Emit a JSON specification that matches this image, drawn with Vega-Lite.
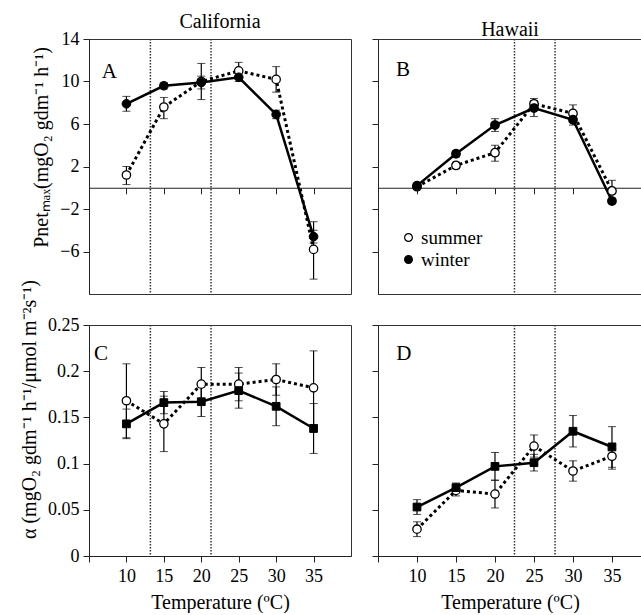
{
  "$schema": "https://vega.github.io/schema/vega-lite/v6.json",
  "padding": {"left": 19, "top": 11, "right": 0, "bottom": 0},
  "autosize": {"type": "pad"},
  "background": "white",
  "datasets": {
    "pts": [
      {"panel": "A", "season": "summer", "temp": 10, "val": 1.2, "lo": 0.3, "hi": 2.0},
      {"panel": "A", "season": "summer", "temp": 15, "val": 7.6, "lo": 6.5, "hi": 8.5},
      {"panel": "A", "season": "summer", "temp": 20, "val": 10.0, "lo": 8.3, "hi": 11.7},
      {"panel": "A", "season": "summer", "temp": 25, "val": 11.0, "lo": 10.3, "hi": 11.8},
      {"panel": "A", "season": "summer", "temp": 30, "val": 10.2, "lo": 9.0, "hi": 11.4},
      {"panel": "A", "season": "summer", "temp": 35, "val": -5.8, "lo": -8.6, "hi": -3.2},
      {"panel": "A", "season": "winter", "temp": 10, "val": 7.9, "lo": 7.2, "hi": 8.6},
      {"panel": "A", "season": "winter", "temp": 15, "val": 9.6, "lo": 9.3, "hi": 9.9},
      {"panel": "A", "season": "winter", "temp": 20, "val": 9.9, "lo": 9.3, "hi": 10.5},
      {"panel": "A", "season": "winter", "temp": 25, "val": 10.4, "lo": 10.0, "hi": 10.8},
      {"panel": "A", "season": "winter", "temp": 30, "val": 6.9, "lo": 6.5, "hi": 7.3},
      {"panel": "A", "season": "winter", "temp": 35, "val": -4.6, "lo": -5.2, "hi": -4.0},
      {"panel": "B", "season": "summer", "temp": 10, "val": 0.1, "lo": -0.1, "hi": 0.3},
      {"panel": "B", "season": "summer", "temp": 15, "val": 2.1, "lo": 1.8, "hi": 2.4},
      {"panel": "B", "season": "summer", "temp": 20, "val": 3.3, "lo": 2.5, "hi": 4.0},
      {"panel": "B", "season": "summer", "temp": 25, "val": 7.9, "lo": 7.3, "hi": 8.4},
      {"panel": "B", "season": "summer", "temp": 30, "val": 7.0, "lo": 6.2, "hi": 7.8},
      {"panel": "B", "season": "summer", "temp": 35, "val": -0.3, "lo": -1.0, "hi": 0.7},
      {"panel": "B", "season": "winter", "temp": 10, "val": 0.2, "lo": 0.0, "hi": 0.4},
      {"panel": "B", "season": "winter", "temp": 15, "val": 3.2, "lo": 2.9, "hi": 3.5},
      {"panel": "B", "season": "winter", "temp": 20, "val": 5.9, "lo": 5.3, "hi": 6.5},
      {"panel": "B", "season": "winter", "temp": 25, "val": 7.5, "lo": 6.7, "hi": 8.2},
      {"panel": "B", "season": "winter", "temp": 30, "val": 6.4, "lo": 5.9, "hi": 6.9},
      {"panel": "B", "season": "winter", "temp": 35, "val": -1.25, "lo": -1.5, "hi": -1.0},
      {"panel": "C", "season": "summer", "temp": 10, "val": 0.168, "lo": 0.128, "hi": 0.208},
      {"panel": "C", "season": "summer", "temp": 15, "val": 0.143, "lo": 0.113, "hi": 0.173},
      {"panel": "C", "season": "summer", "temp": 20, "val": 0.186, "lo": 0.168, "hi": 0.204},
      {"panel": "C", "season": "summer", "temp": 25, "val": 0.186, "lo": 0.168, "hi": 0.204},
      {"panel": "C", "season": "summer", "temp": 30, "val": 0.191, "lo": 0.174, "hi": 0.208},
      {"panel": "C", "season": "summer", "temp": 35, "val": 0.182, "lo": 0.142, "hi": 0.222},
      {"panel": "C", "season": "winter", "temp": 10, "val": 0.143, "lo": 0.127, "hi": 0.159},
      {"panel": "C", "season": "winter", "temp": 15, "val": 0.166, "lo": 0.154, "hi": 0.178},
      {"panel": "C", "season": "winter", "temp": 20, "val": 0.167, "lo": 0.151, "hi": 0.183},
      {"panel": "C", "season": "winter", "temp": 25, "val": 0.179, "lo": 0.160, "hi": 0.198},
      {"panel": "C", "season": "winter", "temp": 30, "val": 0.162, "lo": 0.141, "hi": 0.183},
      {"panel": "C", "season": "winter", "temp": 35, "val": 0.138, "lo": 0.111, "hi": 0.165},
      {"panel": "D", "season": "summer", "temp": 10, "val": 0.029, "lo": 0.021, "hi": 0.037},
      {"panel": "D", "season": "summer", "temp": 15, "val": 0.071, "lo": 0.065, "hi": 0.077},
      {"panel": "D", "season": "summer", "temp": 20, "val": 0.067, "lo": 0.052, "hi": 0.082},
      {"panel": "D", "season": "summer", "temp": 25, "val": 0.119, "lo": 0.107, "hi": 0.131},
      {"panel": "D", "season": "summer", "temp": 30, "val": 0.092, "lo": 0.081, "hi": 0.103},
      {"panel": "D", "season": "summer", "temp": 35, "val": 0.108, "lo": 0.094, "hi": 0.122},
      {"panel": "D", "season": "winter", "temp": 10, "val": 0.053, "lo": 0.045, "hi": 0.061},
      {"panel": "D", "season": "winter", "temp": 15, "val": 0.074, "lo": 0.069, "hi": 0.079},
      {"panel": "D", "season": "winter", "temp": 20, "val": 0.097, "lo": 0.082, "hi": 0.112},
      {"panel": "D", "season": "winter", "temp": 25, "val": 0.101, "lo": 0.092, "hi": 0.110},
      {"panel": "D", "season": "winter", "temp": 30, "val": 0.135, "lo": 0.118, "hi": 0.152},
      {"panel": "D", "season": "winter", "temp": 35, "val": 0.118, "lo": 0.096, "hi": 0.140}
    ],
    "vlines": [
      {"panel": "A", "temp": 13.2}, {"panel": "A", "temp": 21.3},
      {"panel": "B", "temp": 22.5}, {"panel": "B", "temp": 27.7},
      {"panel": "C", "temp": 13.2}, {"panel": "C", "temp": 21.3},
      {"panel": "D", "temp": 22.5}, {"panel": "D", "temp": 27.7}
    ],
    "letters": [
      {"panel": "A", "temp": 7.7, "val": 10.9, "txt": "A"},
      {"panel": "B", "temp": 8.2, "val": 11.1, "txt": "B"},
      {"panel": "C", "temp": 6.6, "val": 0.219, "txt": "C"},
      {"panel": "D", "temp": 8.3, "val": 0.219, "txt": "D"}
    ]
  },
  "config": {
    "font": "Liberation Serif, Times New Roman, serif",
    "axis": {
      "labelFont": "Liberation Serif, Times New Roman, serif", "titleFont": "Liberation Serif, Times New Roman, serif",
      "labelFontSize": 18, "titleFontSize": 20, "titleFontWeight": "normal",
      "labelColor": "black", "titleColor": "black",
      "domainColor": "#222", "tickColor": "#222", "grid": false,
      "tickSize": 6, "labelPadding": 4, "titlePadding": 8
    },
    "title": {"font": "Liberation Serif, Times New Roman, serif", "fontSize": 20, "fontWeight": "normal", "color": "black", "offset": -2, "frame": "group", "anchor": "middle"},
    "view": {"stroke": "#333", "strokeWidth": 1},
    "legend": {"labelFont": "Liberation Serif, Times New Roman, serif", "labelFontSize": 19, "labelColor": "black"}
  },
  "columns": 2,
  "bounds": "flush",
  "align": "each",
  "spacing": {"row": 31, "column": 27},
  "resolve": {"scale": {"fill": "independent"}, "legend": {"fill": "independent"}},
  "concat": [
    {
      "width": 262, "height": 255,
      "title": "California",
      "encoding": {"x": {"field": "temp", "type": "quantitative", "scale": {"domain": [5, 40], "nice": false, "zero": false}, "axis": {"values": [10, 15, 20, 25, 30, 35], "labels": false, "title": null, "offset": -106.25}}},
      "layer": [
        {"data": {"name": "vlines"}, "transform": [{"filter": "datum.panel == 'A'"}], "mark": {"type": "rule", "strokeDash": [1.5, 1.5], "strokeWidth": 1.5, "color": "#333"}, "encoding": {}},
        {"data": {"name": "pts"}, "transform": [{"filter": "datum.panel == 'A' && datum.season == 'summer'"}], "mark": {"type": "line", "color": "black", "strokeWidth": 3, "strokeDash": [3, 3]},
         "encoding": {"y": {"field": "val", "type": "quantitative", "scale": {"domain": [-10, 14], "nice": false, "zero": false}, "title": "Pnetₘₐₓ(mgO₂ gdm⁻¹ h⁻¹)", "axis": {"values": [-6, -2, 2, 6, 10, 14], "titleY": 108}}}},
        {"data": {"name": "pts"}, "transform": [{"filter": "datum.panel == 'A' && datum.season == 'winter'"}], "mark": {"type": "line", "color": "black", "strokeWidth": 2.5},
         "encoding": {"y": {"field": "val", "type": "quantitative", "title": "Pnetₘₐₓ(mgO₂ gdm⁻¹ h⁻¹)"}}},
        {"data": {"name": "pts"}, "transform": [{"filter": "datum.panel == 'A'"}], "mark": {"type": "errorbar", "color": "black", "ticks": {"size": 8, "color": "black"}, "rule": {"strokeWidth": 1.2}},
         "encoding": {"y": {"field": "lo", "type": "quantitative", "title": "Pnetₘₐₓ(mgO₂ gdm⁻¹ h⁻¹)"}, "y2": {"field": "hi"}}},
        {"data": {"name": "pts"}, "transform": [{"filter": "datum.panel == 'A' && datum.season == 'summer'"}], "mark": {"type": "point", "shape": "circle", "filled": true, "fill": "white", "stroke": "black", "strokeWidth": 1.3, "size": 70, "opacity": 1},
         "encoding": {"y": {"field": "val", "type": "quantitative", "title": "Pnetₘₐₓ(mgO₂ gdm⁻¹ h⁻¹)"}}},
        {"data": {"name": "pts"}, "transform": [{"filter": "datum.panel == 'A' && datum.season == 'winter'"}], "mark": {"type": "point", "shape": "circle", "filled": true, "fill": "black", "stroke": "black", "strokeWidth": 1, "size": 75, "opacity": 1},
         "encoding": {"y": {"field": "val", "type": "quantitative", "title": "Pnetₘₐₓ(mgO₂ gdm⁻¹ h⁻¹)"}}},
        {"data": {"name": "letters"}, "transform": [{"filter": "datum.panel == 'A'"}], "mark": {"type": "text", "font": "Liberation Serif, Times New Roman, serif", "fontSize": 21, "color": "black", "align": "center", "baseline": "middle"},
         "encoding": {"y": {"field": "val", "type": "quantitative", "title": "Pnetₘₐₓ(mgO₂ gdm⁻¹ h⁻¹)"}, "text": {"field": "txt"}}}
      ]
    },
    {
      "width": 264, "height": 255,
      "title": "Hawaii",
      "encoding": {"x": {"field": "temp", "type": "quantitative", "scale": {"domain": [5, 38.85], "nice": false, "zero": false}, "axis": {"values": [10, 15, 20, 25, 30, 35], "labels": false, "title": null, "offset": -106.25}}},
      "layer": [
        {"data": {"name": "vlines"}, "transform": [{"filter": "datum.panel == 'B'"}], "mark": {"type": "rule", "strokeDash": [1.5, 1.5], "strokeWidth": 1.5, "color": "#333"}, "encoding": {}},
        {"data": {"name": "pts"}, "transform": [{"filter": "datum.panel == 'B' && datum.season == 'summer'"}], "mark": {"type": "line", "color": "black", "strokeWidth": 3, "strokeDash": [3, 3]},
         "encoding": {"y": {"field": "val", "type": "quantitative", "scale": {"domain": [-10, 14], "nice": false, "zero": false}, "title": null, "axis": {"values": [-6, -2, 2, 6, 10, 14], "labels": false}}}},
        {"data": {"name": "pts"}, "transform": [{"filter": "datum.panel == 'B' && datum.season == 'winter'"}], "mark": {"type": "line", "color": "black", "strokeWidth": 2.5},
         "encoding": {"y": {"field": "val", "type": "quantitative", "title": null}}},
        {"data": {"name": "pts"}, "transform": [{"filter": "datum.panel == 'B'"}], "mark": {"type": "errorbar", "color": "black", "ticks": {"size": 8, "color": "black"}, "rule": {"strokeWidth": 1.2}},
         "encoding": {"y": {"field": "lo", "type": "quantitative", "title": null}, "y2": {"field": "hi"}}},
        {"data": {"name": "pts"}, "transform": [{"filter": "datum.panel == 'B'"}], "mark": {"type": "point", "shape": "circle", "filled": true, "stroke": "black", "strokeWidth": 1.3, "size": 72, "opacity": 1},
         "encoding": {"y": {"field": "val", "type": "quantitative", "title": null},
           "fill": {"field": "season", "type": "nominal", "scale": {"domain": ["summer", "winter"], "range": ["white", "black"]},
             "legend": {"orient": "none", "legendX": 21, "legendY": 189, "title": null, "symbolType": "circle", "symbolSize": 60, "symbolStrokeColor": "black", "symbolStrokeWidth": 1.2, "rowPadding": 2, "labelOffset": 3}}}},
        {"data": {"name": "letters"}, "transform": [{"filter": "datum.panel == 'B'"}], "mark": {"type": "text", "font": "Liberation Serif, Times New Roman, serif", "fontSize": 21, "color": "black", "align": "center", "baseline": "middle"},
         "encoding": {"y": {"field": "val", "type": "quantitative", "title": null}, "text": {"field": "txt"}}}
      ]
    },
    {
      "width": 262, "height": 231,
      "encoding": {"x": {"field": "temp", "type": "quantitative", "scale": {"domain": [5, 40], "nice": false, "zero": false}, "axis": {"values": [5, 10, 15, 20, 25, 30, 35], "labelExpr": "datum.value == 5 ? '' : datum.label", "title": "Temperature (ºC)", "labelPadding": 5, "titlePadding": 7}}},
      "layer": [
        {"data": {"name": "vlines"}, "transform": [{"filter": "datum.panel == 'C'"}], "mark": {"type": "rule", "strokeDash": [1.5, 1.5], "strokeWidth": 1.5, "color": "#333"}, "encoding": {}},
        {"data": {"name": "pts"}, "transform": [{"filter": "datum.panel == 'C' && datum.season == 'summer'"}], "mark": {"type": "line", "color": "black", "strokeWidth": 3, "strokeDash": [3, 3]},
         "encoding": {"y": {"field": "val", "type": "quantitative", "scale": {"domain": [0, 0.25], "nice": false, "zero": false}, "title": "α (mgO₂ gdm⁻¹ h⁻¹/μmol m⁻²s⁻¹)", "axis": {"values": [0, 0.05, 0.1, 0.15, 0.2, 0.25], "format": "~g", "titleY": 84}}}},
        {"data": {"name": "pts"}, "transform": [{"filter": "datum.panel == 'C' && datum.season == 'winter'"}], "mark": {"type": "line", "color": "black", "strokeWidth": 2.5},
         "encoding": {"y": {"field": "val", "type": "quantitative", "title": "α (mgO₂ gdm⁻¹ h⁻¹/μmol m⁻²s⁻¹)"}}},
        {"data": {"name": "pts"}, "transform": [{"filter": "datum.panel == 'C'"}], "mark": {"type": "errorbar", "color": "black", "ticks": {"size": 8, "color": "black"}, "rule": {"strokeWidth": 1.2}},
         "encoding": {"y": {"field": "lo", "type": "quantitative", "title": "α (mgO₂ gdm⁻¹ h⁻¹/μmol m⁻²s⁻¹)"}, "y2": {"field": "hi"}}},
        {"data": {"name": "pts"}, "transform": [{"filter": "datum.panel == 'C' && datum.season == 'summer'"}], "mark": {"type": "point", "shape": "circle", "filled": true, "fill": "white", "stroke": "black", "strokeWidth": 1.3, "size": 70, "opacity": 1},
         "encoding": {"y": {"field": "val", "type": "quantitative", "title": "α (mgO₂ gdm⁻¹ h⁻¹/μmol m⁻²s⁻¹)"}}},
        {"data": {"name": "pts"}, "transform": [{"filter": "datum.panel == 'C' && datum.season == 'winter'"}], "mark": {"type": "point", "shape": "square", "filled": true, "fill": "black", "stroke": "black", "strokeWidth": 1, "size": 60, "opacity": 1},
         "encoding": {"y": {"field": "val", "type": "quantitative", "title": "α (mgO₂ gdm⁻¹ h⁻¹/μmol m⁻²s⁻¹)"}}},
        {"data": {"name": "letters"}, "transform": [{"filter": "datum.panel == 'C'"}], "mark": {"type": "text", "font": "Liberation Serif, Times New Roman, serif", "fontSize": 21, "color": "black", "align": "center", "baseline": "middle"},
         "encoding": {"y": {"field": "val", "type": "quantitative", "title": "α (mgO₂ gdm⁻¹ h⁻¹/μmol m⁻²s⁻¹)"}, "text": {"field": "txt"}}}
      ]
    },
    {
      "width": 264, "height": 231,
      "encoding": {"x": {"field": "temp", "type": "quantitative", "scale": {"domain": [5, 38.85], "nice": false, "zero": false}, "axis": {"values": [5, 10, 15, 20, 25, 30, 35], "labelExpr": "datum.value == 5 ? '' : datum.label", "title": "Temperature (ºC)", "labelPadding": 5, "titlePadding": 7}}},
      "layer": [
        {"data": {"name": "vlines"}, "transform": [{"filter": "datum.panel == 'D'"}], "mark": {"type": "rule", "strokeDash": [1.5, 1.5], "strokeWidth": 1.5, "color": "#333"}, "encoding": {}},
        {"data": {"name": "pts"}, "transform": [{"filter": "datum.panel == 'D' && datum.season == 'summer'"}], "mark": {"type": "line", "color": "black", "strokeWidth": 3, "strokeDash": [3, 3]},
         "encoding": {"y": {"field": "val", "type": "quantitative", "scale": {"domain": [0, 0.25], "nice": false, "zero": false}, "title": null, "axis": {"values": [0, 0.05, 0.1, 0.15, 0.2, 0.25], "labels": false}}}},
        {"data": {"name": "pts"}, "transform": [{"filter": "datum.panel == 'D' && datum.season == 'winter'"}], "mark": {"type": "line", "color": "black", "strokeWidth": 2.5},
         "encoding": {"y": {"field": "val", "type": "quantitative", "title": null}}},
        {"data": {"name": "pts"}, "transform": [{"filter": "datum.panel == 'D'"}], "mark": {"type": "errorbar", "color": "black", "ticks": {"size": 8, "color": "black"}, "rule": {"strokeWidth": 1.2}},
         "encoding": {"y": {"field": "lo", "type": "quantitative", "title": null}, "y2": {"field": "hi"}}},
        {"data": {"name": "pts"}, "transform": [{"filter": "datum.panel == 'D' && datum.season == 'summer'"}], "mark": {"type": "point", "shape": "circle", "filled": true, "fill": "white", "stroke": "black", "strokeWidth": 1.3, "size": 70, "opacity": 1},
         "encoding": {"y": {"field": "val", "type": "quantitative", "title": null}}},
        {"data": {"name": "pts"}, "transform": [{"filter": "datum.panel == 'D' && datum.season == 'winter'"}], "mark": {"type": "point", "shape": "square", "filled": true, "fill": "black", "stroke": "black", "strokeWidth": 1, "size": 60, "opacity": 1},
         "encoding": {"y": {"field": "val", "type": "quantitative", "title": null}}},
        {"data": {"name": "letters"}, "transform": [{"filter": "datum.panel == 'D'"}], "mark": {"type": "text", "font": "Liberation Serif, Times New Roman, serif", "fontSize": 21, "color": "black", "align": "center", "baseline": "middle"},
         "encoding": {"y": {"field": "val", "type": "quantitative", "title": null}, "text": {"field": "txt"}}}
      ]
    }
  ]
}
